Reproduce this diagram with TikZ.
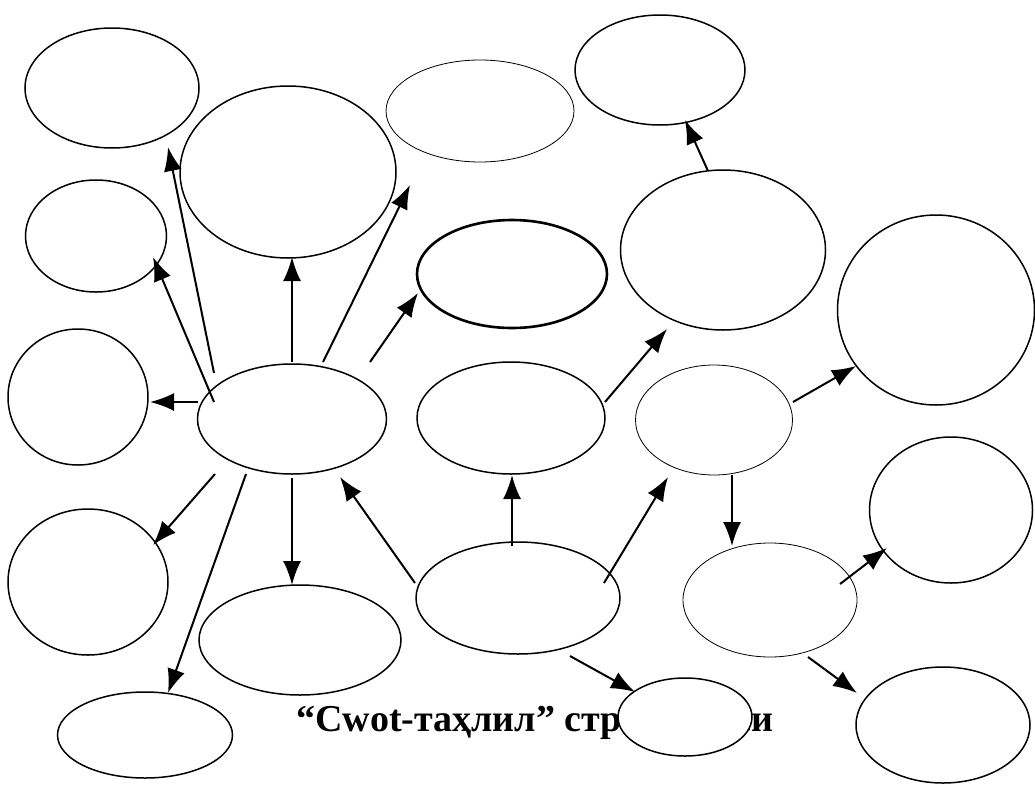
\documentclass[tikz,border=0pt]{standalone}
\usepackage{fontspec}
\setmainfont{Liberation Serif}
\usetikzlibrary{shapes.geometric, arrows.meta}
\tikzstyle{oval} = [draw, ellipse, line width=1.5pt, inner sep=0pt]
\tikzstyle{thin oval} = [oval, line width=0.8pt]
\tikzstyle{bold oval} = [oval, line width=2.6pt]
\tikzstyle{line} = [draw, line width=2pt, -{Latex[length=24pt,width=18pt]}]

\begin{document}
\begin{tikzpicture}[x=1pt, y=-1pt]
  \useasboundingbox (0,0) rectangle (1035,798);
  % caption (partly hidden)
  \node [anchor=base west, inner sep=0pt, font=\bfseries\fontsize{38}{41}\selectfont] (cap) at (296,731) {“Сwot-таҳлил” стратегияси};
  % ovals
  \node [oval, minimum width=174pt, minimum height=120pt]      (tl)  at (112,88)  {};
  \node [oval, minimum width=216pt, minimum height=172pt]      (big) at (288,172) {};
  \node [thin oval, minimum width=188pt, minimum height=102pt] (tt)  at (480,111) {};
  \node [oval, minimum width=170pt, minimum height=110pt]      (tr)  at (660,70)  {};
  \node [oval, minimum width=141pt, minimum height=112pt]      (sl)  at (96,236)  {};
  \node [bold oval, minimum width=190pt, minimum height=108pt] (bo)  at (512,274) {};
  \node [oval, minimum width=205pt, minimum height=160pt]      (rb)  at (723,250) {};
  \node [oval, minimum width=197pt, minimum height=190pt]      (fr)  at (936,310) {};
  \node [oval, minimum width=140pt, minimum height=136pt]      (lm)  at (78,397)  {};
  \node [oval, minimum width=189pt, minimum height=110pt]      (ctr) at (292,419) {};
  \node [oval, minimum width=188pt, minimum height=112pt]      (mid) at (511,418) {};
  \node [thin oval, minimum width=157pt, minimum height=110pt] (rt)  at (714,420) {};
  \node [oval, minimum width=163pt, minimum height=146pt]      (rr)  at (951,510) {};
  \node [oval, minimum width=160pt, minimum height=146pt]      (lb)  at (88,582)  {};
  \node [oval, minimum width=202pt, minimum height=110pt]      (bc)  at (300,640) {};
  \node [oval, minimum width=204pt, minimum height=112pt]      (src) at (518,598) {};
  \node [thin oval, minimum width=174pt, minimum height=114pt] (rl)  at (770,600) {};
  \node [oval, minimum width=174pt, minimum height=116pt]      (br)  at (943,725) {};
  \node [oval, minimum width=175pt, minimum height=86pt]       (bl)  at (145,735) {};
  \node [oval, fill=white, minimum width=134pt, minimum height=78pt] (cov) at (685,717) {};
  % arrows from the centre oval
  \path [line] ([shift={(-94,-17)}]ctr.center) -- ([shift={(72,5)}]lm.center);
  \path [line] ([shift={(-78,-17)}]ctr.center) -- ([shift={(57,21)}]sl.center);
  \path [line] ([shift={(-78,-46)}]ctr.center) -- ([shift={(56,59)}]tl.center);
  \path [line] ([shift={(0,-57)}]ctr.center)   -- ([shift={(4,85)}]big.center);
  \path [line] ([shift={(31,-57)}]ctr.center)  -- ([shift={(-70,74)}]tt.center);
  \path [line] ([shift={(78,-57)}]ctr.center)  -- ([shift={(-94,19)}]bo.center);
  \path [line] ([shift={(-77,55)}]ctr.center)  -- ([shift={(65,-37)}]lb.center);
  \path [line] ([shift={(-46,55)}]ctr.center)  -- ([shift={(23,-42)}]bl.center);
  \path [line] ([shift={(0,59)}]ctr.center)    -- ([shift={(-8,-55)}]bc.center);
  % arrows from the lower oval
  \path [line] ([shift={(-103,-15)}]src.center) -- ([shift={(48,58)}]ctr.center);
  \path [line] ([shift={(-6,-52)}]src.center)   -- ([shift={(1,57)}]mid.center);
  \path [line] ([shift={(86,-15)}]src.center)   -- ([shift={(-46,57)}]rt.center);
  \path [line] ([shift={(52,58)}]src.center)    -- ([shift={(-50,-25)}]cov.center);
  % right side
  \path [line] ([shift={(94,-16)}]mid.center) -- ([shift={(-56,79)}]rb.center);
  \path [line] ([shift={(-15,-79)}]rb.center) -- ([shift={(25,50)}]tr.center);
  \path [line] ([shift={(79,-18)}]rt.center)  -- ([shift={(-80,56)}]fr.center);
  \path [line] ([shift={(18,55)}]rt.center)   -- ([shift={(-38,-54)}]rl.center);
  \path [line] ([shift={(70,-16)}]rl.center)  -- ([shift={(-64,38)}]rr.center);
  \path [line] ([shift={(38,57)}]rl.center)   -- ([shift={(-86,-32)}]br.center);
\end{tikzpicture}
\end{document}
